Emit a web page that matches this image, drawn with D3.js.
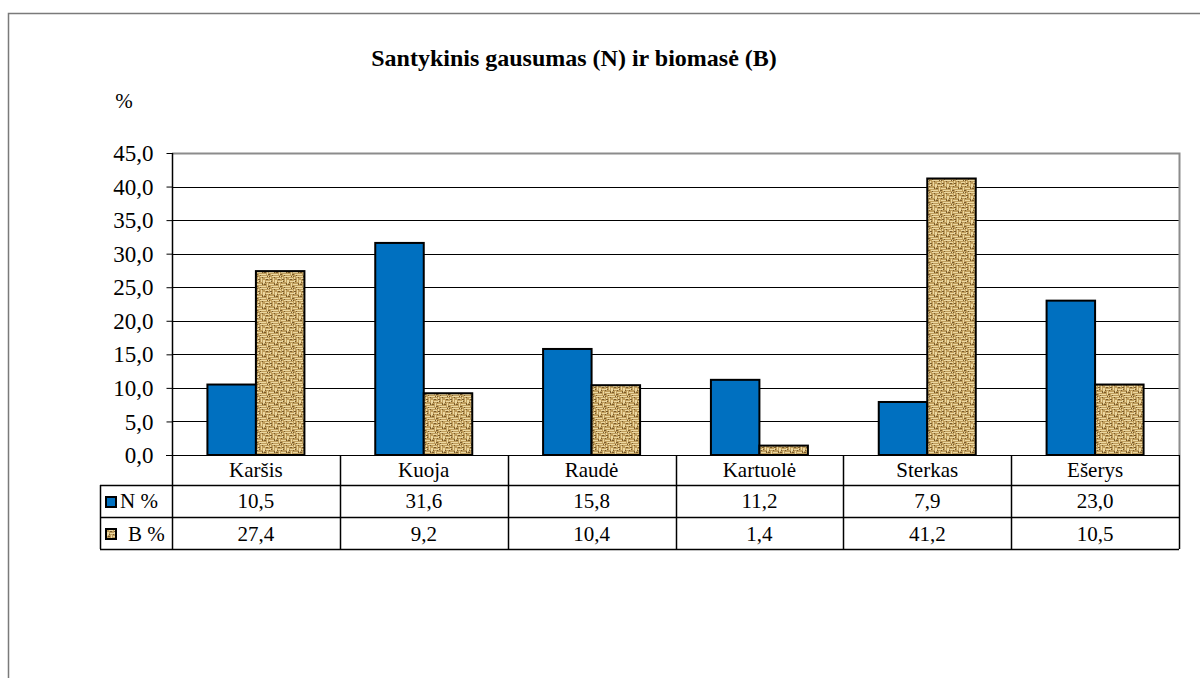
<!DOCTYPE html>
<html>
<head>
<meta charset="utf-8">
<script src="https://cdn.jsdelivr.net/npm/d3@7"></script>
<style>
  html, body { margin: 0; padding: 0; background: #fff; }
  svg { display: block; }
</style>
</head>
<body>
<svg id="chart" width="1200" height="678" font-family="Liberation Serif"></svg>
<script>
// Fish species (categories) and the two series in percent
const categories = ["Karšis", "Kuoja", "Raudė", "Kartuolė", "Sterkas", "Ešerys"];
const nValues = [10.5, 31.6, 15.8, 11.2, 7.9, 23.0];
const bValues = [27.4, 9.2, 10.4, 1.4, 41.2, 10.5];
const seriesNames = ["N %", "B %"];
const yTicks = [0, 5, 10, 15, 20, 25, 30, 35, 40, 45];
const titleText = "Santykinis gausumas (N) ir biomasė (B)";
const yUnit = "%";

const fmt = v => v.toFixed(1).replace(".", ",");
const SERIF = "Liberation Serif";

const svg = d3.select("#chart");

// Woven burlap fill for the biomass series
const defs = svg.append("defs");
const pat = defs.append("pattern")
  .attr("id", "burlap")
  .attr("patternUnits", "userSpaceOnUse")
  .attr("width", 12).attr("height", 12);
pat.append("rect").attr("width", 12).attr("height", 12).attr("fill", "#bf9d5c");
const light = [
  [0,0,5,1],[6,1,1,4],[8,0,4,1],[1,2,4,1],[9,2,1,4],[0,4,1,3],
  [2,5,5,1],[11,4,1,4],[3,7,1,4],[5,8,5,1],[7,10,5,1],[0,10,2,1]
];
const dark = [
  [5,0,1,1],[10,1,1,1],[2,3,2,1],[7,5,1,1],[0,8,2,1],[10,7,1,2],
  [4,10,2,1],[8,11,1,1],[5,6,1,1],[1,6,1,1],[6,3,2,1],[3,0,1,1]
];
light.forEach(r => pat.append("rect").attr("x", r[0]).attr("y", r[1])
  .attr("width", r[2]).attr("height", r[3]).attr("fill", "#ecd7a0"));
dark.forEach(r => pat.append("rect").attr("x", r[0]).attr("y", r[1])
  .attr("width", r[2]).attr("height", r[3]).attr("fill", "#7a5b2b"));

// Outer frame (top and left edges)
svg.append("path")
  .attr("d", "M8.5,678 V13.5 H1200")
  .attr("fill", "none").attr("stroke", "#7a7a7a").attr("stroke-width", 1.5);

// Title and unit
svg.append("text").attr("x", 574).attr("y", 66).attr("text-anchor", "middle")
  .attr("font-family", SERIF).attr("font-size", 24).attr("font-weight", "bold").text(titleText);
svg.append("text").attr("x", 124).attr("y", 108).attr("text-anchor", "middle")
  .attr("font-family", SERIF).attr("font-size", 21).text(yUnit);

// Plot geometry
const pLeft = 172, pRight = 1179, pTop = 153, pBottom = 455;
const x = d3.scaleBand().domain(categories).range([pLeft, pRight]);
const y = d3.scaleLinear().domain([0, 45]).range([pBottom, pTop]);
const barW = 48.5;

// Gridlines
svg.append("g").selectAll("line").data(yTicks.filter(t => t > 0 && t < 45)).join("line")
  .attr("x1", pLeft).attr("x2", pRight)
  .attr("y1", d => Math.round(y(d)) + 0.5).attr("y2", d => Math.round(y(d)) + 0.5)
  .attr("stroke", "#000").attr("stroke-width", 1);

// Plot area border (top and right)
svg.append("path")
  .attr("d", `M${pLeft},${pTop + 0.5} H${pRight + 0.5} V${pBottom}`)
  .attr("fill", "none").attr("stroke", "#8c8c8c").attr("stroke-width", 2);

// Y axis
const yAxis = d3.axisLeft(y).tickValues(yTicks).tickFormat(fmt).tickSize(6).tickPadding(13);
const gy = svg.append("g").attr("transform", `translate(${pLeft + 0.5},0)`).call(yAxis)
  .attr("font-family", SERIF).attr("font-size", 23);
gy.select(".domain").attr("stroke", "#000").attr("stroke-width", 1.5).attr("d", `M0,${pTop}V${pBottom}`);
gy.selectAll(".tick line").attr("stroke", "#000");
gy.selectAll(".tick text").attr("font-family", SERIF).attr("font-size", 23).attr("fill", "#000")
  .attr("dy", "0.33em");

// Bars
const groups = svg.append("g").selectAll("g").data(categories).join("g");
groups.append("rect")
  .attr("x", (d, i) => x(d) + x.bandwidth() / 2 - barW)
  .attr("y", (d, i) => y(nValues[i]))
  .attr("width", barW)
  .attr("height", (d, i) => y(0) - y(nValues[i]))
  .attr("fill", "#0070c0").attr("stroke", "#000").attr("stroke-width", 2);
groups.append("rect")
  .attr("x", (d, i) => x(d) + x.bandwidth() / 2)
  .attr("y", (d, i) => y(bValues[i]))
  .attr("width", barW)
  .attr("height", (d, i) => y(0) - y(bValues[i]))
  .attr("fill", "url(#burlap)").attr("stroke", "#000").attr("stroke-width", 2);

// Baseline
svg.append("line").attr("x1", pLeft - 6).attr("x2", pRight).attr("y1", pBottom + 0.5).attr("y2", pBottom + 0.5)
  .attr("stroke", "#000").attr("stroke-width", 1);

// Data table below the plot
const tableLeft = 100;
const rowBase = [477, 508, 541];
const tg = svg.append("g").attr("font-family", SERIF);
// horizontal rules
[485, 517, 549].forEach(yy => tg.append("line")
  .attr("x1", tableLeft).attr("x2", pRight).attr("y1", yy + 0.5).attr("y2", yy + 0.5)
  .attr("stroke", "#000").attr("stroke-width", 1.5));
// vertical rules at category boundaries
const bounds = categories.map(c => x(c)).concat([pRight]);
bounds.forEach(bx => tg.append("line")
  .attr("x1", Math.round(bx) + 0.5).attr("x2", Math.round(bx) + 0.5)
  .attr("y1", pBottom).attr("y2", 549)
  .attr("stroke", "#000").attr("stroke-width", 1.5));
tg.append("line").attr("x1", tableLeft + 0.5).attr("x2", tableLeft + 0.5)
  .attr("y1", 485).attr("y2", 549).attr("stroke", "#000").attr("stroke-width", 1.5);

// category labels
tg.selectAll("text.cat").data(categories).join("text").attr("class", "cat")
  .attr("x", d => x(d) + x.bandwidth() / 2).attr("y", rowBase[0])
  .attr("font-family", SERIF).attr("text-anchor", "middle").attr("font-size", 21).text(d => d);
// value rows
[nValues, bValues].forEach((vals, r) => {
  tg.selectAll(`text.v${r}`).data(vals).join("text").attr("class", `v${r}`)
    .attr("x", (d, i) => x(categories[i]) + x.bandwidth() / 2)
    .attr("y", rowBase[r + 1])
    .attr("font-family", SERIF).attr("text-anchor", "middle").attr("font-size", 21).text(d => fmt(d));
});
// legend keys in the table
tg.append("rect").attr("x", 106).attr("y", 497).attr("width", 10).attr("height", 10)
  .attr("fill", "#0070c0").attr("stroke", "#000").attr("stroke-width", 2);
tg.append("text").attr("x", 120).attr("y", rowBase[1]).attr("font-family", SERIF).attr("font-size", 21).text(seriesNames[0]);
tg.append("rect").attr("x", 106).attr("y", 529).attr("width", 10).attr("height", 10)
  .attr("fill", "url(#burlap)").attr("stroke", "#000").attr("stroke-width", 2);
tg.append("text").attr("x", 128).attr("y", rowBase[2]).attr("font-family", SERIF).attr("font-size", 21).text(seriesNames[1]);
</script>
</body>
</html>
